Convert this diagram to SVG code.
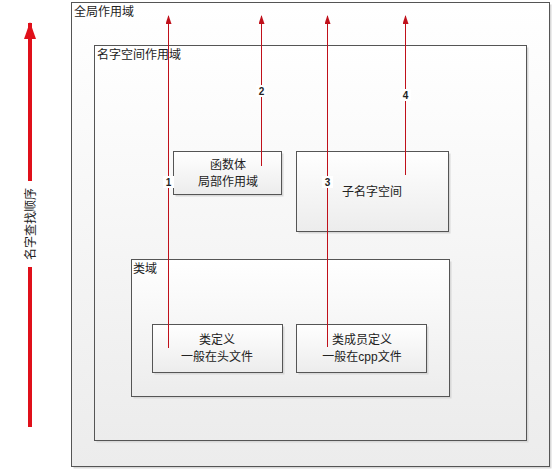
<svg xmlns="http://www.w3.org/2000/svg" width="554" height="472" viewBox="0 0 554 472">
<defs>
<linearGradient id="g" x1="0" y1="0" x2="0" y2="1">
<stop offset="0" stop-color="#ffffff"/>
<stop offset="1" stop-color="#ececec"/>
</linearGradient>
<marker id="ah" markerWidth="9" markerHeight="6" refX="8" refY="3" orient="auto" markerUnits="userSpaceOnUse" viewBox="0 0 9 6">
<path d="M0,0 L9,3 L0,6 Z" fill="#c0101a"/>
</marker>
<marker id="bigah" markerWidth="17" markerHeight="12" refX="16" refY="6" orient="auto" markerUnits="userSpaceOnUse" viewBox="0 0 17 12">
<path d="M0,0 L17,6 L0,12 Z" fill="#e0101a"/>
</marker>
</defs>
<style>
.box{fill:url(#g);stroke:#555;stroke-width:1}
.shadow{fill:#d8d8d8}
text{font-family:"Liberation Sans","Noto Sans CJK SC",sans-serif;font-size:12px;fill:#222}
.c{text-anchor:middle}
.num{font-size:10px;font-weight:bold;text-anchor:middle}
.conn{stroke:#c0101a;stroke-width:1;fill:none}
.lab{fill:#ffffff}
</style>
<rect width="554" height="472" fill="#ffffff"/>
<g id="global">
<rect class="shadow" x="73.5" y="4.5" width="478" height="464"/>
<rect class="box" x="71.5" y="2.5" width="478" height="464" stroke="#777"/>
<text x="74" y="16">全局作用域</text>
</g>
<g id="namespace">
<rect class="shadow" x="96.5" y="47.5" width="432" height="395"/>
<rect class="box" x="94.5" y="45.5" width="432" height="395"/>
<text x="97" y="59">名字空间作用域</text>
</g>
<g id="func">
<rect class="shadow" x="175.5" y="153.5" width="108" height="43"/>
<rect class="box" x="173.5" y="151.5" width="108" height="43"/>
<text class="c" x="228" y="169">函数体</text>
<text class="c" x="228" y="186">局部作用域</text>
</g>
<g id="subns">
<rect class="shadow" x="298.5" y="153.5" width="152" height="80"/>
<rect class="box" x="296.5" y="151.5" width="152" height="80"/>
<text class="c" x="372" y="196">子名字空间</text>
</g>
<g id="classscope">
<rect class="shadow" x="133.5" y="261.5" width="318" height="137"/>
<rect class="box" x="131.5" y="259.5" width="318" height="137"/>
<text x="133" y="273">类域</text>
</g>
<g id="classdef">
<rect class="shadow" x="154.5" y="326.5" width="130" height="48"/>
<rect class="box" x="152.5" y="324.5" width="130" height="48"/>
<text class="c" x="217" y="344">类定义</text>
<text class="c" x="217" y="361">一般在头文件</text>
</g>
<g id="memberdef">
<rect class="shadow" x="298.5" y="326.5" width="130" height="48"/>
<rect class="box" x="296.5" y="324.5" width="130" height="48"/>
<text class="c" x="362" y="344">类成员定义</text>
<text class="c" x="362" y="361">一般在cpp文件</text>
</g>
<g id="connectors">
<line class="conn" x1="168.5" y1="348" x2="168.5" y2="16" marker-end="url(#ah)"/>
<line class="conn" x1="261.5" y1="166" x2="261.5" y2="16" marker-end="url(#ah)"/>
<line class="conn" x1="327.5" y1="347" x2="327.5" y2="16" marker-end="url(#ah)"/>
<line class="conn" x1="405.5" y1="175" x2="405.5" y2="16" marker-end="url(#ah)"/>
<rect class="lab" x="163" y="176" width="11" height="12"/>
<text class="num" x="168.5" y="186">1</text>
<rect class="lab" x="256" y="85" width="11" height="12"/>
<text class="num" x="261.5" y="95">2</text>
<rect class="lab" x="322" y="176" width="11" height="12"/>
<text class="num" x="327.5" y="186">3</text>
<rect class="lab" x="400" y="89" width="11" height="12"/>
<text class="num" x="405.5" y="99">4</text>
<line x1="30" y1="427" x2="30" y2="23" stroke="#e0101a" stroke-width="4" marker-end="url(#bigah)"/>
<rect x="21" y="181" width="18" height="86" fill="#ffffff"/>
<text class="c" x="0" y="0" transform="translate(35,224) rotate(-90)" font-size="14">名字查找顺序</text>
</g>
</svg>
